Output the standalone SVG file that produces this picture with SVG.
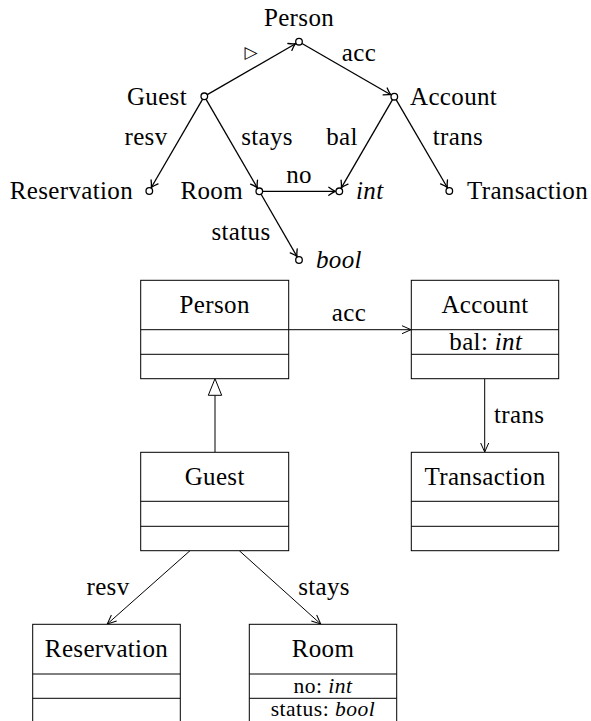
<svg xmlns="http://www.w3.org/2000/svg" width="591" height="721" viewBox="0 0 591 721" font-family="'Liberation Serif', 'DejaVu Serif', serif" font-size="25">
<style>
text{font-family:'Liberation Serif','DejaVu Serif',serif;font-size:25px;fill:#000;letter-spacing:0.35px}
.it{font-style:italic}
.mid{text-anchor:middle}
.end{text-anchor:end}
.tri{font-family:'DejaVu Sans',sans-serif;font-size:17px;letter-spacing:0}
.xs{font-size:21.5px;letter-spacing:0.5px}
.dot{fill:#fff;stroke:#000;stroke-width:1.3}
.edge{stroke:#000;stroke-width:1.3;fill:none}
.box{fill:#fff;stroke:#000;stroke-width:1}
.sep{stroke:#000;stroke-width:1}
.assoc{stroke:#000;stroke-width:1;fill:none}
</style>
<defs>
<marker id="tip" markerUnits="userSpaceOnUse" markerWidth="12" markerHeight="12" viewBox="-8 -6 10 12" refX="0" refY="0" orient="auto">
<path d="M-6.5,-4 Q-2.5,-1 0,0 Q-2.5,1 -6.5,4" fill="none" stroke="#000" stroke-width="1.3" stroke-linecap="round"/>
</marker>
<marker id="open" markerUnits="userSpaceOnUse" markerWidth="14" markerHeight="12" viewBox="-11 -6 12 12" refX="0" refY="0" orient="auto">
<path d="M-9,-4 L0,0 L-9,4" fill="none" stroke="#000" stroke-width="1"/>
</marker>
</defs>

<g id="connectors">
<line class="edge" x1="207.3" y1="94.6" x2="295.5" y2="43.7" marker-end="url(#tip)"/>
<line class="edge" x1="302.0" y1="43.5" x2="390.8" y2="94.7" marker-end="url(#tip)"/>
<line class="edge" x1="202.5" y1="99.3" x2="151.3" y2="187.5" marker-end="url(#tip)"/>
<line class="edge" x1="206.1" y1="99.3" x2="257.3" y2="187.8" marker-end="url(#tip)"/>
<line class="edge" x1="262.8" y1="191.3" x2="335.3" y2="191.3" marker-end="url(#tip)"/>
<line class="edge" x1="261.1" y1="194.3" x2="297" y2="256.5" marker-end="url(#tip)"/>
<line class="edge" x1="392.5" y1="99.7" x2="341.3" y2="187.8" marker-end="url(#tip)"/>
<line class="edge" x1="396.1" y1="99.7" x2="447.3" y2="187.5" marker-end="url(#tip)"/>
<text x="251" y="58" class="mid tri">▷</text>
<text x="359" y="61" class="mid">acc</text>
<text x="146" y="144.5" class="mid">resv</text>
<text x="267" y="144.5" class="mid">stays</text>
<text x="342" y="144.5" class="mid">bal</text>
<text x="458" y="144.5" class="mid">trans</text>
<text x="299" y="182.5" class="mid">no</text>
<text x="241" y="239.5" class="mid">status</text>

<line class="assoc" x1="288.7" y1="329.7" x2="411" y2="329.7" marker-end="url(#open)"/>
<text x="349" y="320.5" class="mid">acc</text>
<line class="assoc" x1="215" y1="395.3" x2="215" y2="452.3"/>
<polygon points="215,378.7 208.3,395.3 221.7,395.3" fill="#fff" stroke="#000" stroke-width="1"/>
<line class="assoc" x1="484.7" y1="378.7" x2="484.7" y2="452" marker-end="url(#open)"/>
<text x="494" y="423">trans</text>
<line class="assoc" x1="190" y1="550.7" x2="107.3" y2="624" marker-end="url(#open)"/>
<text x="108" y="594.5" class="mid">resv</text>
<line class="assoc" x1="239.3" y1="550.7" x2="320.7" y2="624" marker-end="url(#open)"/>
<text x="324" y="594.5" class="mid">stays</text>
</g>

<g id="n-person"><circle class="dot" cx="299" cy="41.7" r="3.3"/><text x="299" y="26" class="mid">Person</text></g>
<g id="n-guest"><circle class="dot" cx="204.3" cy="96.3" r="3.3"/><text x="187" y="104.5" class="end">Guest</text></g>
<g id="n-account"><circle class="dot" cx="394.3" cy="96.7" r="3.3"/><text x="410" y="105">Account</text></g>
<g id="n-reservation"><circle class="dot" cx="149.3" cy="191" r="3.3"/><text x="133" y="199.3" class="end">Reservation</text></g>
<g id="n-room"><circle class="dot" cx="259.3" cy="191.3" r="3.3"/><text x="243" y="199.3" class="end">Room</text></g>
<g id="n-int"><circle class="dot" cx="339.3" cy="191.3" r="3.3"/><text x="356" y="199.3" class="it">int</text></g>
<g id="n-transaction"><circle class="dot" cx="449.3" cy="191" r="3.3"/><text x="467" y="199.3">Transaction</text></g>
<g id="n-bool"><circle class="dot" cx="299" cy="260" r="3.3"/><text x="316" y="268.3" class="it">bool</text></g>

<g id="c-person">
<rect class="box" x="140.7" y="280.3" width="148" height="98.4"/>
<line class="sep" x1="140.7" y1="329.7" x2="288.7" y2="329.7"/>
<line class="sep" x1="140.7" y1="354.3" x2="288.7" y2="354.3"/>
<text x="214.7" y="313.3" class="mid">Person</text>
</g>
<g id="c-account">
<rect class="box" x="411.3" y="280.3" width="147.4" height="98.4"/>
<line class="sep" x1="411.3" y1="329.7" x2="558.7" y2="329.7"/>
<line class="sep" x1="411.3" y1="354.3" x2="558.7" y2="354.3"/>
<text x="485" y="313.3" class="mid">Account</text>
<text x="485.8" y="350" class="mid">bal: <tspan class="it">int</tspan></text>
</g>
<g id="c-guest">
<rect class="box" x="140.7" y="452.3" width="148" height="98.4"/>
<line class="sep" x1="140.7" y1="501.3" x2="288.7" y2="501.3"/>
<line class="sep" x1="140.7" y1="526.3" x2="288.7" y2="526.3"/>
<text x="214.7" y="485" class="mid">Guest</text>
</g>
<g id="c-transaction">
<rect class="box" x="411.3" y="452.3" width="147.4" height="98.4"/>
<line class="sep" x1="411.3" y1="501.3" x2="558.7" y2="501.3"/>
<line class="sep" x1="411.3" y1="526.3" x2="558.7" y2="526.3"/>
<text x="485" y="485" class="mid">Transaction</text>
</g>
<g id="c-reservation">
<rect class="box" x="32.7" y="624.3" width="147.6" height="110"/>
<line class="sep" x1="32.7" y1="674" x2="180.3" y2="674"/>
<line class="sep" x1="32.7" y1="698.3" x2="180.3" y2="698.3"/>
<text x="106.5" y="657" class="mid">Reservation</text>
</g>
<g id="c-room">
<rect class="box" x="249.3" y="624.3" width="147.4" height="110"/>
<line class="sep" x1="249.3" y1="674" x2="396.7" y2="674"/>
<line class="sep" x1="249.3" y1="698.3" x2="396.7" y2="698.3"/>
<text x="323" y="657" class="mid">Room</text>
<text x="323" y="692.5" class="mid xs">no: <tspan class="it">int</tspan></text>
<text x="323" y="716.3" class="mid xs">status: <tspan class="it">bool</tspan></text>
</g>
</svg>
